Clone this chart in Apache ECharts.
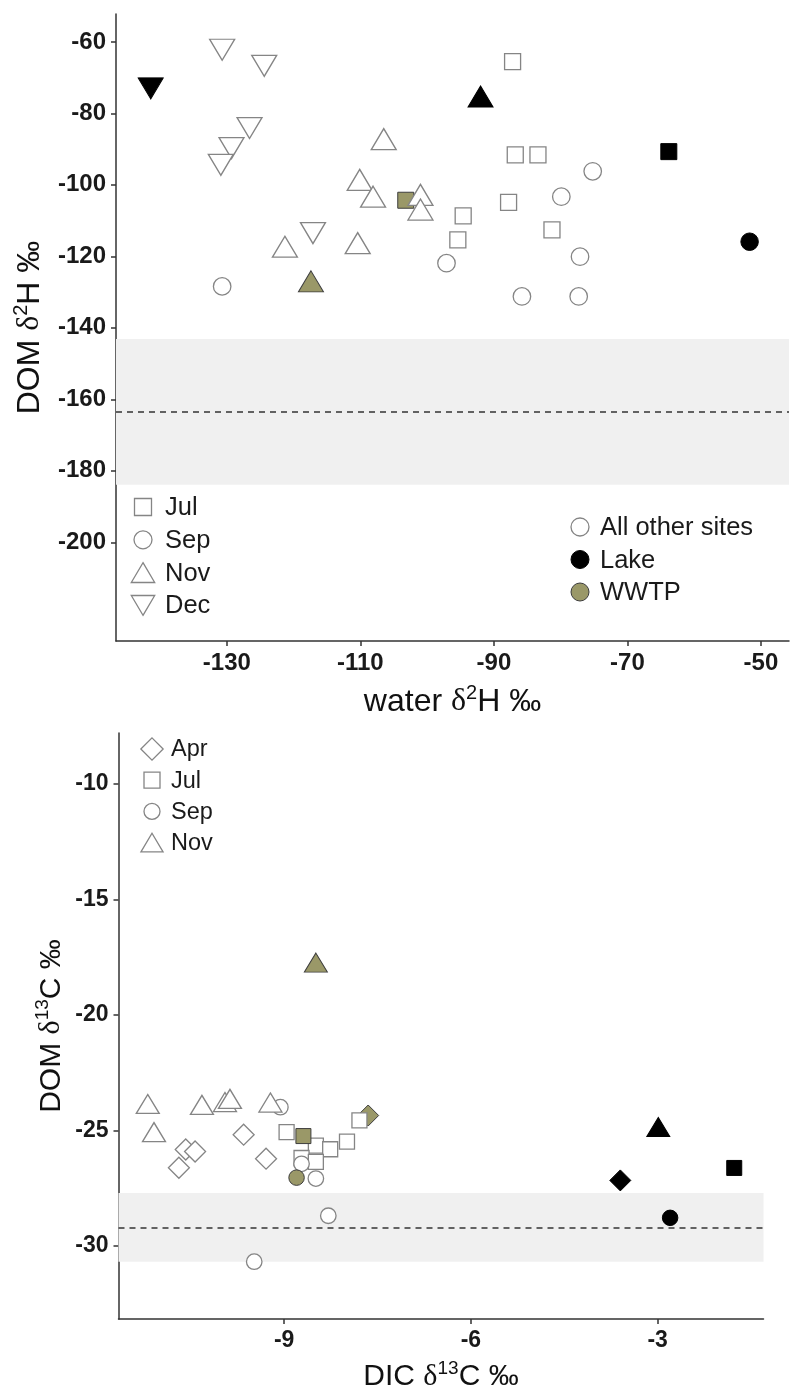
<!DOCTYPE html>
<html>
<head>
<meta charset="utf-8">
<script src="https://cdn.jsdelivr.net/npm/echarts@6/dist/echarts.min.js"></script>
<style>
  html, body { margin: 0; padding: 0; background: #fff; }
  #chart { width: 790px; height: 1393px; }
</style>
</head>
<body>
<div id="chart"></div>
<script>
// ---- Panel A: water δ2H vs DOM δ2H, rows are [water δ2H, DOM δ2H, site] ----
const h2Jul = [[-87.2, -65.5, 'other'], [-86.8, -91.6, 'other'], [-83.4, -91.6, 'other'],
  [-87.8, -104.9, 'other'], [-94.6, -108.7, 'other'], [-95.4, -115.4, 'other'],
  [-81.3, -112.6, 'other'], [-63.8, -90.7, 'Lake'], [-103.2, -104.3, 'WWTP']];
const h2Sep = [[-79.9, -103.3, 'other'], [-75.2, -96.2, 'other'], [-97.1, -121.9, 'other'],
  [-77.1, -120.1, 'other'], [-85.8, -131.2, 'other'], [-77.3, -131.2, 'other'],
  [-130.7, -128.4, 'other'], [-51.7, -115.9, 'Lake']];
const h2Nov = [[-106.5, -87.2, 'other'], [-110.1, -98.6, 'other'], [-108.1, -103.3, 'other'],
  [-121.3, -117.3, 'other'], [-110.4, -116.3, 'other'], [-101.0, -102.8, 'other'],
  [-101.0, -106.9, 'other'], [-92.0, -75.3, 'Lake'], [-117.4, -127.0, 'WWTP']];
const h2Dec = [[-130.7, -62.2, 'other'], [-124.4, -66.7, 'other'], [-126.6, -84.1, 'other'],
  [-129.3, -89.7, 'other'], [-130.9, -94.4, 'other'], [-117.1, -113.5, 'other'],
  [-141.4, -73.0, 'Lake']];
const h2Band = [-143.1, -183.9];   // shaded range of DOM δ2H
const h2Mean = -163.6;             // dashed reference level
const h2XTicks = [-130, -110, -90, -70, -50];
const h2YTicks = [-200, -180, -160, -140, -120, -100, -80, -60];

// ---- Panel B: DIC δ13C vs DOM δ13C, rows are [DIC δ13C, DOM δ13C, site] ----
const c13Apr = [[-10.69, -26.62, 'other'], [-10.58, -25.83, 'other'], [-10.43, -25.92, 'other'],
  [-9.65, -25.19, 'other'], [-9.29, -26.23, 'other'], [-7.65, -24.36, 'WWTP'],
  [-3.60, -27.17, 'Lake']];
const c13Jul = [[-8.96, -25.08, 'other'], [-8.49, -25.66, 'other'], [-8.26, -25.82, 'other'],
  [-7.99, -25.49, 'other'], [-7.79, -24.57, 'other'], [-8.72, -26.2, 'other'],
  [-8.49, -26.37, 'other'], [-8.69, -25.25, 'WWTP'], [-1.77, -26.63, 'Lake']];
const c13Sep = [[-9.06, -24.0, 'other'], [-8.72, -26.45, 'other'], [-8.49, -27.09, 'other'],
  [-8.29, -28.70, 'other'], [-9.48, -30.69, 'other'], [-8.80, -27.05, 'WWTP'],
  [-2.80, -28.79, 'Lake']];
const c13Nov = [[-11.19, -23.86, 'other'], [-11.09, -25.08, 'other'], [-10.32, -23.90, 'other'],
  [-9.95, -23.78, 'other'], [-9.87, -23.64, 'other'], [-9.22, -23.8, 'other'],
  [-8.49, -17.74, 'WWTP'], [-2.99, -24.86, 'Lake']];
const c13Band = [-27.71, -30.69];
const c13Mean = -29.21;
const c13XTicks = [-9, -6, -3];
const c13YTicks = [-30, -25, -20, -15, -10];

const siteNames = ['All other sites', 'Lake', 'WWTP'];

// ---- styles ----
const FONT = '"Liberation Sans", Arial, sans-serif';
const AXIS_COLOR = '#333333';
const OLIVE = '#9a9868';
const siteStyle = {
  other: { color: '#ffffff', borderColor: '#858585', borderWidth: 1.3, opacity: 1 },
  Lake:  { color: '#000000', borderColor: '#000000', borderWidth: 1, opacity: 1 },
  WWTP:  { color: OLIVE, borderColor: '#3d3d3d', borderWidth: 1, opacity: 1 }
};
const DIAMOND = 'path://M0,-1L1,0L0,1L-1,0Z';
const shapeOf = {
  square:  { symbol: 'rect', rotate: 0 },
  circle:  { symbol: 'circle', rotate: 0 },
  up:      { symbol: 'triangle', rotate: 0 },
  down:    { symbol: 'triangle', rotate: 180 },
  diamond: { symbol: DIAMOND, rotate: 0 }
};
const sizeA = { square: 16, circle: 17.5, up: [25, 21], down: [25, 21] };
const sizeB = { square: 15, circle: 15.5, up: [23, 19], diamond: 21 };

function pointSeries(name, rows, shape, size, axisIdx) {
  const s = shapeOf[shape];
  return {
    name: name,
    type: 'scatter',
    xAxisIndex: axisIdx, yAxisIndex: axisIdx,
    symbol: s.symbol,
    symbolRotate: s.rotate,
    symbolSize: size,
    itemStyle: { opacity: 1 },
    emphasis: { disabled: true },
    z: rows.some(r => r[2] !== 'other') ? 4 : 3,
    data: rows.map(r => ({ value: [r[0], r[1]], itemStyle: siteStyle[r[2]] }))
  };
}

function bandSeries(axisIdx, band, mean) {
  return {
    type: 'scatter', xAxisIndex: axisIdx, yAxisIndex: axisIdx, data: [], z: 1,
    markArea: {
      silent: true,
      itemStyle: { color: '#f0f0f0' },
      data: [[{ yAxis: band[0] }, { yAxis: band[1] }]]
    },
    markLine: {
      silent: true, symbol: 'none', label: { show: false },
      lineStyle: { type: [6, 5], color: '#333', width: 1.5 },
      data: [{ yAxis: mean }]
    }
  };
}

function richName(size) {
  return {
    t: { fontFamily: FONT, fontSize: size, color: '#111', verticalAlign: 'bottom' },
    d: { fontFamily: '"Liberation Serif", serif', fontSize: size, color: '#111', verticalAlign: 'bottom' },
    s: { fontFamily: FONT, fontSize: Math.round(size * 0.62), color: '#111', verticalAlign: 'bottom', padding: [0, 0, Math.round(size * 0.48), 0] }
  };
}

function axisCommon(ticks, labelSize, nameSize) {
  return {
    axisLine: { show: true, onZero: false, lineStyle: { color: AXIS_COLOR, width: 1.5 } },
    axisTick: { show: true, length: 5, customValues: ticks, lineStyle: { color: AXIS_COLOR, width: 1.5 } },
    axisLabel: { customValues: ticks, margin: 10, fontFamily: FONT, fontWeight: 'bold', fontSize: labelSize, color: '#1a1a1a' },
    splitLine: { show: false },
    nameLocation: 'middle',
    nameMoveOverlap: false,
    nameTextStyle: { rich: richName(nameSize) }
  };
}

// ---- legends drawn as shapes plus text ----
function legendShape(kind, cx, cy, size, style) {
  const st = { fill: style.color, stroke: style.borderColor, lineWidth: style.borderWidth };
  if (kind === 'square') {
    return { type: 'rect', shape: { x: cx - size / 2, y: cy - size / 2, width: size, height: size }, style: st };
  }
  if (kind === 'circle') {
    return { type: 'circle', shape: { cx: cx, cy: cy, r: size / 2 }, style: st };
  }
  if (kind === 'up' || kind === 'down') {
    const w = size * 1.3, h = size * 1.1, s = kind === 'up' ? 1 : -1;
    return { type: 'polygon', shape: { points: [[cx, cy - s * h / 2], [cx + w / 2, cy + s * h / 2], [cx - w / 2, cy + s * h / 2]] }, style: st };
  }
  const r = size * 0.62;
  return { type: 'polygon', shape: { points: [[cx, cy - r], [cx + r, cy], [cx, cy + r], [cx - r, cy]] }, style: st };
}

function legendBlock(entries, x0, y0, gap, textX, fontSize) {
  const out = [];
  entries.forEach((e, i) => {
    const cy = y0 + i * gap;
    out.push(legendShape(e.kind, x0, cy, e.size, e.style));
    out.push({
      type: 'text', x: textX, y: cy + 1,
      style: { text: e.label, fontFamily: FONT, fontSize: fontSize, fill: '#1a1a1a', verticalAlign: 'middle', align: 'left' }
    });
  });
  return out;
}

const monthsA = [
  { label: 'Jul', kind: 'square', size: 17 },
  { label: 'Sep', kind: 'circle', size: 18 },
  { label: 'Nov', kind: 'up', size: 18 },
  { label: 'Dec', kind: 'down', size: 18 }
].map(e => Object.assign(e, { style: siteStyle.other }));

const sitesA = siteNames.map((n, i) => ({
  label: n, kind: 'circle', size: 18, style: siteStyle[['other', 'Lake', 'WWTP'][i]]
}));

const monthsB = [
  { label: 'Apr', kind: 'diamond', size: 18 },
  { label: 'Jul', kind: 'square', size: 16 },
  { label: 'Sep', kind: 'circle', size: 16 },
  { label: 'Nov', kind: 'up', size: 17 }
].map(e => Object.assign(e, { style: siteStyle.other }));

const chart = echarts.init(document.getElementById('chart'), null, { renderer: 'canvas' });

chart.setOption({
  animation: false,
  backgroundColor: '#ffffff',
  grid: [
    { left: 116, top: 14, width: 673, height: 627 },
    { left: 118.5, top: 733, width: 645, height: 588 }
  ],
  xAxis: [
    Object.assign(axisCommon(h2XTicks, 24, 32), {
      type: 'value', gridIndex: 0, min: -146.6, max: -45.8,
      name: '{t|water }{d|δ}{s|2}{t|H ‰}', nameGap: 42
    }),
    Object.assign(axisCommon(c13XTicks, 23, 30), {
      type: 'value', gridIndex: 1, min: -11.66, max: -1.30,
      name: '{t|DIC }{d|δ}{s|13}{t|C ‰}', nameGap: 40
    })
  ],
  yAxis: [
    Object.assign(axisCommon(h2YTicks, 24, 32), {
      type: 'value', gridIndex: 0, min: -227.6, max: -52.2,
      name: '{t|DOM }{d|δ}{s|2}{t|H ‰}', nameGap: 70, nameRotate: 90
    }),
    Object.assign(axisCommon(c13YTicks, 23, 30), {
      type: 'value', gridIndex: 1, min: -33.17, max: -7.8,
      name: '{t|DOM }{d|δ}{s|13}{t|C ‰}', nameGap: 52, nameRotate: 90
    })
  ],
  series: [
    bandSeries(0, h2Band, h2Mean),
    pointSeries('Jul', h2Jul, 'square', sizeA.square, 0),
    pointSeries('Sep', h2Sep, 'circle', sizeA.circle, 0),
    pointSeries('Nov', h2Nov, 'up', sizeA.up, 0),
    pointSeries('Dec', h2Dec, 'down', sizeA.down, 0),
    bandSeries(1, c13Band, c13Mean),
    pointSeries('Apr', c13Apr, 'diamond', sizeB.diamond, 1),
    pointSeries('Jul', c13Jul, 'square', sizeB.square, 1),
    pointSeries('Sep', c13Sep, 'circle', sizeB.circle, 1),
    pointSeries('Nov', c13Nov, 'up', sizeB.up, 1)
  ],
  graphic: [].concat(
    legendBlock(monthsA, 143, 507, 32.8, 165, 25.5),
    legendBlock(sitesA, 580, 527, 32.5, 600, 25.5),
    legendBlock(monthsB, 152, 749, 31.2, 171, 23.5)
  )
});
</script>
</body>
</html>
